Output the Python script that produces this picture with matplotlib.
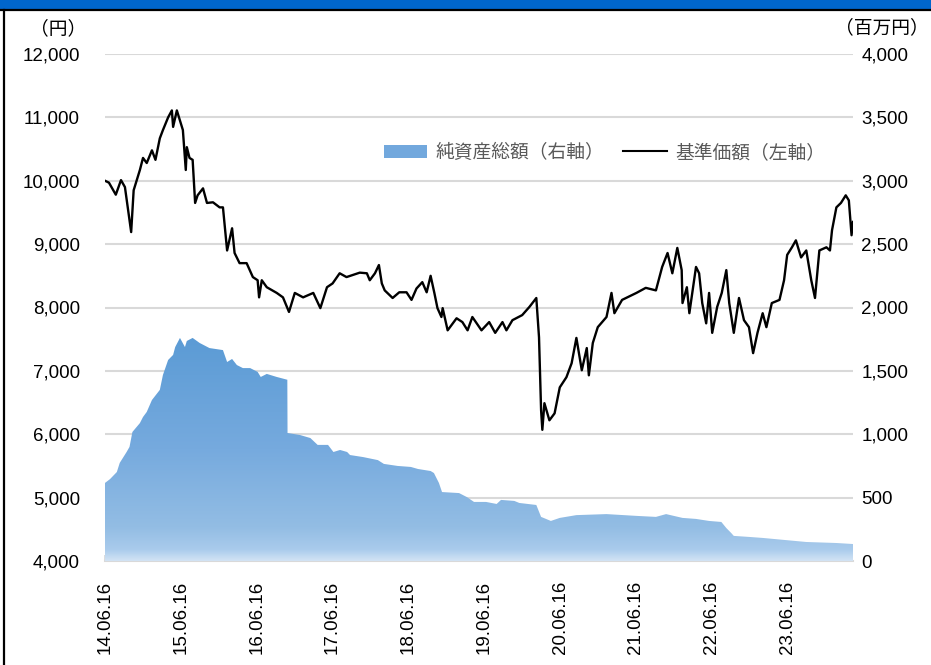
import numpy as np
import pandas as pd
import matplotlib
matplotlib.use("Agg")
import matplotlib.pyplot as plt
import matplotlib.dates as mdates
from matplotlib.colors import LinearSegmentedColormap
from matplotlib.patches import Rectangle, Patch
from matplotlib.lines import Line2D

plt.rcParams['font.family'] = ['Liberation Sans', 'Noto Sans CJK JP', 'DejaVu Sans']

# ---------------------------
# data
# ---------------------------

# 基準価額 (left axis, yen)
price_dates = [
    "2014-06-16", "2014-07-05", "2014-08-07", "2014-09-01", "2014-09-20", "2014-10-20",
    "2014-11-01", "2014-12-01", "2014-12-16", "2015-01-03", "2015-01-28", "2015-02-14",
    "2015-03-07", "2015-03-22", "2015-04-16", "2015-05-04", "2015-05-10", "2015-05-28",
    "2015-06-12", "2015-06-26", "2015-07-10", "2015-07-15", "2015-07-28", "2015-08-12",
    "2015-08-24", "2015-09-05", "2015-10-01", "2015-10-20", "2015-11-18", "2015-12-20",
    "2016-01-05", "2016-01-25", "2016-02-18", "2016-03-01", "2016-03-25", "2016-04-28",
    "2016-05-28", "2016-06-20", "2016-06-27", "2016-07-10", "2016-08-03", "2016-09-20",
    "2016-10-20", "2016-11-18", "2016-12-16", "2017-01-25", "2017-03-15", "2017-04-18",
    "2017-05-20", "2017-06-16", "2017-07-20", "2017-08-22", "2017-10-25", "2017-11-28",
    "2017-12-12", "2018-01-06", "2018-01-25", "2018-02-08", "2018-02-22", "2018-04-01",
    "2018-05-03", "2018-06-07", "2018-07-01", "2018-07-25", "2018-08-22", "2018-09-12",
    "2018-10-01", "2018-10-19", "2018-11-03", "2018-11-22", "2018-11-28", "2018-12-22",
    "2019-02-03", "2019-03-03", "2019-03-28", "2019-04-20", "2019-06-03", "2019-07-10",
    "2019-08-08", "2019-09-12", "2019-10-01", "2019-10-30", "2019-12-16", "2020-01-20",
    "2020-02-22", "2020-03-06", "2020-03-16", "2020-03-22", "2020-04-01", "2020-04-25",
    "2020-05-20", "2020-06-14", "2020-07-16", "2020-08-10", "2020-09-02", "2020-09-28",
    "2020-10-22", "2020-11-01", "2020-11-20", "2020-12-14", "2021-01-25", "2021-02-18",
    "2021-03-04", "2021-04-10", "2021-06-18", "2021-08-02", "2021-09-20", "2021-10-20",
    "2021-11-15", "2021-12-08", "2022-01-01", "2022-01-22", "2022-01-26", "2022-02-16",
    "2022-02-28", "2022-04-01", "2022-04-16", "2022-05-01", "2022-05-20", "2022-06-03",
    "2022-06-18", "2022-07-12", "2022-08-03", "2022-08-25", "2022-09-08", "2022-09-30",
    "2022-10-25", "2022-11-18", "2022-12-12", "2023-01-01", "2023-01-22", "2023-02-16",
    "2023-03-06", "2023-04-01", "2023-05-08", "2023-05-30", "2023-06-14", "2023-07-07",
    "2023-07-26", "2023-08-20", "2023-09-14", "2023-10-08", "2023-10-26", "2023-11-16",
    "2023-12-20", "2024-01-06", "2024-01-16", "2024-02-06", "2024-02-28", "2024-03-22",
    "2024-04-06", "2024-04-19", "2024-04-26",
]
price_values = [
    10000, 9970, 9780, 10010, 9900, 9190,
    9850, 10170, 10360, 10280, 10480, 10330,
    10670, 10800, 11000, 11110, 10850, 11110,
    10950, 10800, 10170, 10530, 10360, 10330,
    9650, 9770, 9880, 9650, 9660, 9580,
    9580, 8900, 9250, 8860, 8700, 8700,
    8480, 8430, 8160, 8430, 8320, 8230,
    8160, 7930, 8230, 8160, 8230, 7990,
    8320, 8380, 8540, 8480, 8550, 8540,
    8430, 8540, 8670, 8380, 8270, 8150,
    8240, 8240, 8120, 8300, 8400, 8240,
    8500, 8230, 7990, 7850, 7990, 7640,
    7830, 7770, 7640, 7850, 7640, 7770,
    7600, 7770, 7640, 7800, 7880, 8010,
    8150, 7530, 6380, 6070, 6490, 6220,
    6330, 6740, 6900, 7120, 7520, 7010,
    7360, 6930, 7440, 7690, 7850, 8230,
    7910, 8120, 8230, 8310, 8270, 8640,
    8860, 8540, 8940, 8590, 8070, 8320,
    7910, 8640, 8540, 8070, 7750, 8230,
    7600, 8010, 8230, 8590, 8070, 7600,
    8150, 7800, 7690, 7280, 7600, 7910,
    7690, 8070, 8120, 8430, 8830, 8950,
    9060, 8790, 8900, 8430, 8150, 8900,
    8950, 8900, 9220, 9580, 9650, 9770,
    9690, 9140, 9350,
]

# 純資産総額 (right axis, million yen)
nav_dates = [
    "2014-06-16", "2014-07-10", "2014-08-12", "2014-08-26", "2014-09-28", "2014-10-12",
    "2014-10-26", "2014-12-01", "2014-12-16", "2015-01-03", "2015-01-28", "2015-03-07",
    "2015-03-22", "2015-04-16", "2015-05-10", "2015-05-20", "2015-06-12", "2015-07-06",
    "2015-07-15", "2015-08-12", "2015-09-15", "2015-11-01", "2016-01-05", "2016-01-25",
    "2016-02-18", "2016-03-12", "2016-04-10", "2016-05-15", "2016-06-20", "2016-07-05",
    "2016-08-03", "2016-09-20", "2016-11-10", "2016-11-11", "2017-01-10", "2017-03-01",
    "2017-04-05", "2017-05-25", "2017-06-20", "2017-07-22", "2017-08-25", "2017-09-08",
    "2017-11-10", "2018-01-20", "2018-02-18", "2018-04-25", "2018-06-28", "2018-08-01",
    "2018-10-01", "2018-10-17", "2018-11-10", "2018-11-25", "2019-02-15", "2019-03-25",
    "2019-04-28", "2019-06-25", "2019-08-15", "2019-09-05", "2019-11-08", "2019-12-02",
    "2020-02-22", "2020-03-16", "2020-05-02", "2020-06-14", "2020-09-02", "2021-01-25",
    "2021-06-18", "2021-09-20", "2021-11-08", "2022-01-26", "2022-04-01", "2022-06-03",
    "2022-08-01", "2022-08-25", "2022-09-18", "2022-09-30", "2022-12-12", "2023-02-16",
    "2023-09-14", "2024-02-06", "2024-04-26",
]
nav_values = [
    616, 646, 702, 774, 860, 900,
    1018, 1088, 1136, 1176, 1270, 1350,
    1468, 1586, 1626, 1688, 1760, 1688,
    1736, 1760, 1720, 1680, 1664, 1570,
    1594, 1546, 1522, 1522, 1492, 1452,
    1476, 1452, 1430, 1010, 994, 970,
    916, 916, 860, 876, 860, 836,
    820, 796, 766, 750, 742, 726,
    710, 694, 616, 544, 536, 504,
    466, 466, 450, 482, 474, 458,
    442, 348, 316, 340, 362, 370,
    356, 348, 370, 340, 332, 316,
    308, 260, 220, 198, 190, 182,
    150, 142, 134,
]

tick_dates = ["2014-06-16", "2015-06-16", "2016-06-16", "2017-06-16", "2018-06-16",
              "2019-06-16", "2020-06-16", "2021-06-16", "2022-06-16", "2023-06-16"]
left_ticks = [4000, 5000, 6000, 7000, 8000, 9000, 10000, 11000, 12000]
right_ticks = [0, 500, 1000, 1500, 2000, 2500, 3000, 3500, 4000]

price_x = mdates.date2num(pd.to_datetime(price_dates))
nav_x = mdates.date2num(pd.to_datetime(nav_dates))
tick_x = mdates.date2num(pd.to_datetime(tick_dates))
x_end = mdates.date2num(pd.Timestamp("2024-04-26"))

# ---------------------------
# figure
# ---------------------------

fig = plt.figure(figsize=(9.31, 6.65), dpi=100)
W, H = 931, 665
ax = fig.add_axes([105 / W, 1 - 561 / H, 748 / W, 507 / H])
ax2 = ax.twinx()

grid_col = '#d9d9d9'

# left axis: price
ax.set_ylim(4000, 12000)
ax.set_yticks(left_ticks)
ax.set_yticklabels([f"{v:,}" for v in left_ticks])
ax.yaxis.grid(True, color=grid_col, linewidth=1.5)
ax.set_axisbelow(True)
ax.plot(price_x, price_values, color='black', linewidth=1.7, zorder=3)

# right axis: net assets with a vertical gradient
ax2.set_ylim(0, 4000)
ax2.set_yticks(right_ticks)
ax2.set_yticklabels([f"{v:,}" for v in right_ticks])
fill = ax2.fill_between(nav_x, 0, nav_values, facecolor='none', edgecolor='none')
cmap = LinearSegmentedColormap.from_list(
    'nav', [(0.0, '#d2e3f4'), (0.05, '#a9cbec'), (0.15, '#93bde4'),
            (0.5, '#76aade'), (1.0, '#5b9bd5')])
grad = np.linspace(0, 1, 256).reshape(-1, 1)
im = ax2.imshow(grad, extent=[nav_x[0], x_end, 0, max(nav_values)], origin='lower',
                aspect='auto', cmap=cmap, zorder=1, interpolation='bilinear')
im.set_clip_path(fill.get_paths()[0], transform=ax2.transData)

for a in (ax, ax2):
    a.set_xlim(price_x[0], x_end)
    for s in a.spines.values():
        s.set_visible(False)
    a.tick_params(axis='y', length=0, labelsize=13.5, colors='black')
ax.tick_params(axis='y', pad=18)
ax2.tick_params(axis='y', pad=6)

ax.spines['bottom'].set_visible(True)
ax.spines['bottom'].set_color(grid_col)
ax.spines['bottom'].set_linewidth(1.5)
ax.spines['bottom'].set_zorder(5)
ax.set_xticks(tick_x)
ax.xaxis.set_major_formatter(mdates.DateFormatter('%y.%m.%d'))
ax.tick_params(axis='x', direction='in', length=4, width=1.3, color=grid_col,
               labelsize=13.5, labelrotation=90, pad=14)
ax2.tick_params(axis='x', length=0)

# unit labels
fig.text(58 / W, 1 - 29 / H, '（円）', ha='center', va='center', fontsize=13.5)
fig.text(882 / W, 1 - 28 / H, '（百万円）', ha='center', va='center', fontsize=13.5)

# legend
handles = [Patch(facecolor='#72a8dd', edgecolor='none'),
           Line2D([0], [0], color='black', linewidth=1.5)]
leg = ax2.legend(handles, ['純資産総額（右軸）', '基準価額（左軸）'], ncol=2, frameon=False,
                 loc='center', bbox_to_anchor=(0.668, 0.805), fontsize=13.5,
                 handlelength=2.3, handletextpad=0.45, columnspacing=1.0)
for t in leg.get_texts():
    t.set_color('#595959')

# frame pieces of the original panel
fig.patches.append(Rectangle((0, 1 - 9 / H), 1, 9 / H, transform=fig.transFigure,
                             facecolor='#0066cc', edgecolor='none'))
fig.lines.append(Line2D([0, 1], [1 - 10 / H, 1 - 10 / H], transform=fig.transFigure,
                        color='black', linewidth=1.6))
fig.lines.append(Line2D([3.5 / W, 3.5 / W], [0, 1 - 10 / H], transform=fig.transFigure,
                        color='black', linewidth=1.6))

fig.savefig('out.png', dpi=100)
